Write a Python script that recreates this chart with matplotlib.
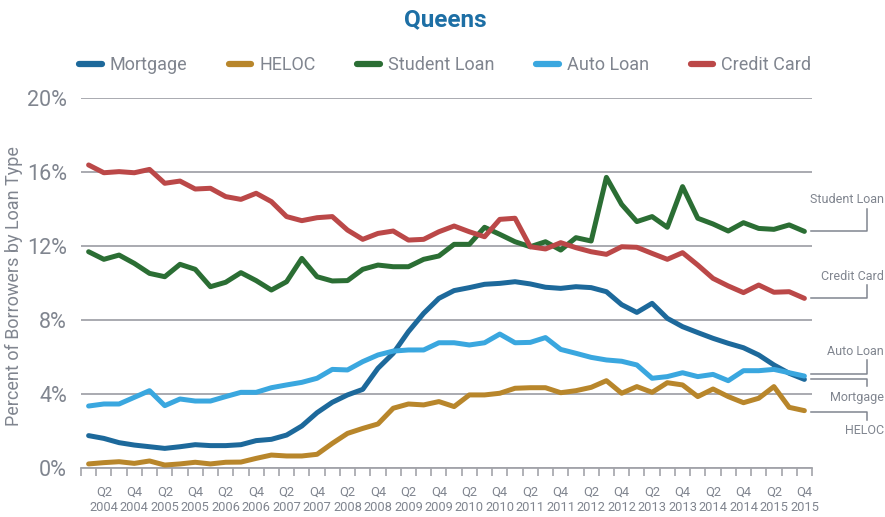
import matplotlib
matplotlib.use("Agg")
import matplotlib.pyplot as plt
from matplotlib.ticker import FixedLocator, FuncFormatter

# quarterly, Q1 2004 .. Q4 2015
years = list(range(2004, 2016))
quarters = ["Q%d %d" % (q, y) for y in years for q in (1, 2, 3, 4)]

mortgage = [1.75, 1.60, 1.37, 1.24, 1.15, 1.06, 1.15, 1.26, 1.21, 1.21, 1.26, 1.48,
            1.55, 1.78, 2.27, 2.99, 3.55, 3.95, 4.25, 5.39, 6.20, 7.37, 8.36, 9.17,
            9.59, 9.75, 9.93, 9.98, 10.07, 9.95, 9.77, 9.71, 9.80, 9.75, 9.53, 8.83,
            8.41, 8.90, 8.09, 7.64, 7.32, 7.01, 6.74, 6.50, 6.11, 5.57, 5.12, 4.79]
heloc = [0.22, 0.29, 0.34, 0.25, 0.38, 0.16, 0.22, 0.31, 0.22, 0.31, 0.32, 0.52,
         0.70, 0.65, 0.65, 0.74, 1.33, 1.87, 2.14, 2.38, 3.23, 3.46, 3.41, 3.59,
         3.32, 3.95, 3.95, 4.04, 4.31, 4.34, 4.34, 4.07, 4.18, 4.36, 4.72, 4.04,
         4.40, 4.09, 4.61, 4.49, 3.86, 4.27, 3.86, 3.53, 3.77, 4.40, 3.28, 3.10]
student = [11.69, 11.28, 11.51, 11.06, 10.52, 10.34, 11.01, 10.74, 9.80, 10.04, 10.56, 10.13,
           9.62, 10.07, 11.33, 10.34, 10.11, 10.13, 10.74, 10.97, 10.88, 10.88, 11.28, 11.46,
           12.09, 12.09, 13.01, 12.63, 12.23, 11.96, 12.23, 11.78, 12.45, 12.27, 15.71, 14.25,
           13.32, 13.59, 13.01, 15.21, 13.50, 13.19, 12.81, 13.26, 12.95, 12.90, 13.14, 12.79]
auto = [3.35, 3.46, 3.46, 3.82, 4.18, 3.37, 3.73, 3.62, 3.62, 3.86, 4.09, 4.09,
        4.34, 4.49, 4.63, 4.85, 5.33, 5.30, 5.75, 6.11, 6.32, 6.38, 6.38, 6.77,
        6.77, 6.65, 6.77, 7.24, 6.77, 6.79, 7.05, 6.41, 6.20, 5.98, 5.84, 5.77,
        5.57, 4.85, 4.94, 5.15, 4.94, 5.06, 4.72, 5.26, 5.26, 5.33, 5.15, 4.97]
credit = [16.38, 15.96, 16.02, 15.96, 16.14, 15.39, 15.51, 15.08, 15.12, 14.67, 14.52, 14.85,
          14.40, 13.59, 13.37, 13.53, 13.59, 12.86, 12.36, 12.68, 12.81, 12.32, 12.36, 12.77,
          13.08, 12.77, 12.50, 13.44, 13.50, 11.96, 11.84, 12.18, 11.91, 11.69, 11.55, 11.96,
          11.93, 11.60, 11.28, 11.64, 10.97, 10.25, 9.84, 9.48, 9.89, 9.50, 9.53, 9.17]

names = ["Mortgage", "HELOC", "Student Loan", "Auto Loan", "Credit Card"]
series = [mortgage, heloc, student, auto, credit]
colors = ["#1d699b", "#b8862b", "#2b6e34", "#3aa7df", "#bb4848"]

GRAY = "#80858f"
GRID = "#a3a4aa"

plt.rcParams['font.family'] = ['Roboto', 'DejaVu Sans']

fig = plt.figure(figsize=(8.85, 5.17), dpi=100)
ax = fig.add_axes([81/885, 1-468/517, 731/885, 370/517])

x = list(range(len(quarters)))
lines = []
for name, vals, c in zip(names, series, colors):
    l, = ax.plot(x, vals, color=c, lw=3.6, label=name,
                 solid_capstyle='round', solid_joinstyle='round', zorder=3)
    lines.append(l)

ax.set_xlim(-0.5, len(quarters) - 0.5)
ax.set_ylim(0, 20)
ax.set_yticks([0, 4, 8, 12, 16, 20])
ax.yaxis.set_major_formatter(FuncFormatter(lambda v, p: "%d%%" % v))
ax.grid(axis='y', color=GRID, lw=1.3)
ax.set_axisbelow(True)

# labels on Q2 / Q4, tick marks on quarter boundaries
lab_pos = [i for i, q in enumerate(quarters) if q[:2] in ("Q2", "Q4")]
ax.xaxis.set_major_locator(FixedLocator(lab_pos))
ax.set_xticklabels([quarters[i].replace(" ", "\n") for i in lab_pos])
ax.xaxis.set_minor_locator(FixedLocator([i - 0.5 for i in range(len(quarters) + 1)]))
ax.tick_params(axis='x', which='major', length=0, pad=13, labelsize=9.3, labelcolor=GRAY)
ax.tick_params(axis='x', which='minor', length=6, width=1.2, color=GRID, direction='out')
ax.tick_params(axis='y', length=0, pad=10, labelsize=15.5, labelcolor=GRAY)
for lab in ax.get_xticklabels():
    lab.set_linespacing(1.15)

for s in ("top", "right", "left"):
    ax.spines[s].set_visible(False)
ax.spines["bottom"].set_color(GRID)
ax.spines["bottom"].set_linewidth(1.3)

fig.text(14/885, 1-286/517, "Percent of Borrowers by Loan Type", rotation=90,
         ha='center', va='center', color=GRAY, fontsize=13)

fig.text(445/885, 1-20/517, "Queens", ha='center', va='center',
         color="#1d6fa5", fontsize=17.5, fontweight='bold')

leg = ax.legend(loc='center left', bbox_to_anchor=(79/885, 1-65/517),
                bbox_transform=fig.transFigure, ncol=5, frameon=False,
                fontsize=13, handlelength=1.25, handletextpad=0.45,
                columnspacing=2.3, borderpad=0, borderaxespad=0)
for t in leg.get_texts():
    t.set_color(GRAY)
for h in leg.get_lines():
    h.set_linewidth(4.5)
    h.set_solid_capstyle('round')

# end labels with elbow connectors: (connector end y, label y) in data units
end_labels = {
    "Student Loan": (14.0, 14.5),
    "Credit Card": (9.89, 10.34),
    "Auto Loan": (5.84, 6.32),
    "Mortgage": (4.43, 3.82),
    "HELOC": (2.59, 2.0),
}
last_y = {"Student Loan": 12.79, "Credit Card": 9.17, "Auto Loan": 5.06,
          "Mortgage": 4.81, "HELOC": 3.04}
trans = ax.get_yaxis_transform()
xv = (866.7 - 81) / 731
xr = (884 - 81) / 731
for name, (yend, ty) in end_labels.items():
    y0 = last_y[name]
    ax.plot([0.999, xv, xv], [y0, y0, yend], color=GRAY, lw=1.1,
            transform=trans, clip_on=False)
    ax.text(xr, ty, name, transform=trans, ha='right', va='center',
            color=GRAY, fontsize=9, clip_on=False)

fig.savefig("out.png", dpi=100)
